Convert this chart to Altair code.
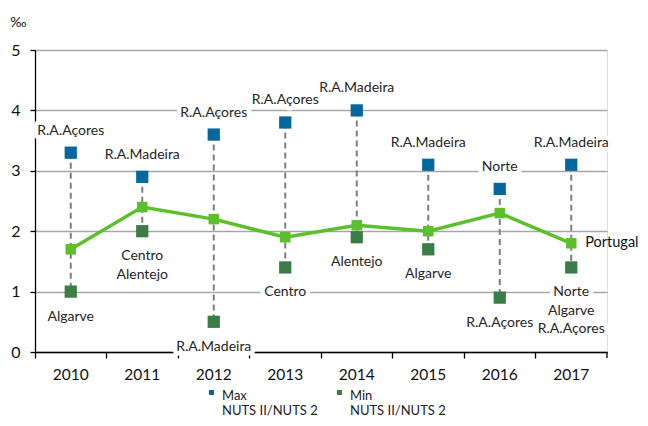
import altair as alt
import pandas as pd

years = ["2010", "2011", "2012", "2013", "2014", "2015", "2016", "2017"]
max_vals = [3.3, 2.9, 3.6, 3.8, 4.0, 3.1, 2.7, 3.1]
min_vals = [1.0, 2.0, 0.5, 1.4, 1.9, 1.7, 0.9, 1.4]
portugal_vals = [1.7, 2.4, 2.2, 1.9, 2.1, 2.0, 2.3, 1.8]
max_regions = ["R.A.Açores", "R.A.Madeira", "R.A.Açores", "R.A.Açores",
               "R.A.Madeira", "R.A.Madeira", "Norte", "R.A.Madeira"]
min_regions = ["Algarve", "Centro\nAlentejo", "R.A.Madeira", "Centro",
               "Alentejo", "Algarve", "R.A.Açores", "Norte\nAlgarve\nR.A.Açores"]
series_names = ["Max|NUTS II/NUTS 2", "Min|NUTS II/NUTS 2"]
series_colors = ["#04679d", "#3b7d46"]
portugal_label = "Portugal"

FONT = "Lato"
W, H = 572, 302

df = pd.DataFrame({
    "year": years, "max": max_vals, "min": min_vals, "portugal": portugal_vals,
    "max_region": max_regions, "min_region": min_regions,
})
pts = pd.concat([
    pd.DataFrame({"year": years, "value": max_vals, "series": series_names[0]}),
    pd.DataFrame({"year": years, "value": min_vals, "series": series_names[1]}),
])

xenc = alt.X("year:N", sort=years, title=None,
             scale=alt.Scale(paddingInner=0, paddingOuter=0),
             axis=alt.Axis(bandPosition=0, labelAngle=0, labelFontSize=15.5,
                           labelFont=FONT, labelColor="#111", labelPadding=9,
                           tickSize=6, tickColor="#000", domainColor="#000",
                           domainWidth=1.3, tickWidth=1.3, grid=False))
yscale = alt.Scale(domain=[0, 5], nice=False)
yaxis = alt.Axis(values=[0, 1, 2, 3, 4, 5], format="d", labelFontSize=16,
                 labelFont=FONT, labelColor="#111", labelPadding=10,
                 tickSize=5, tickColor="#000", domainColor="#000",
                 domainWidth=1.3, tickWidth=1.3, grid=True,
                 gridColor="#a6a6a6", gridWidth=1.3,
                 title="‰", titleAngle=0, titleFont=FONT, titleFontSize=14,
                 titleFontWeight="normal", titleColor="#111",
                 titleX=-17, titleY=-28, titleAlign="center",
                 titleBaseline="middle")

base = alt.Chart(df)

rules = base.mark_rule(color="#7f7f7f", strokeDash=[6, 4], strokeWidth=2).encode(
    x=xenc, y=alt.Y("max:Q", scale=yscale, axis=yaxis), y2="min:Q")

points = alt.Chart(pts).mark_point(shape="square", filled=True, size=150, opacity=1).encode(
    x=alt.X("year:N", sort=years),
    y=alt.Y("value:Q", scale=yscale),
    color=alt.Color("series:N", scale=alt.Scale(domain=series_names, range=series_colors),
                    legend=alt.Legend(title=None, orient="none", direction="horizontal",
                                      legendX=170, legendY=333, padding=0,
                                      symbolType="M-0.5,0.05h1v1h-1z", symbolSize=100,
                                      symbolStrokeWidth=0, labelFont=FONT,
                                      labelFontSize=13, labelColor="#222",
                                      labelExpr="split(datum.label, '|')",
                                      labelBaseline="top", labelLimit=200,
                                      labelOffset=4, columnPadding=15)),
)

line = base.mark_line(color="#5cbf2c", strokeWidth=3.5,
                      point=alt.OverlayMarkDef(shape="square", filled=True, size=110,
                                               color="#5cbf2c", opacity=1)).encode(
    x=alt.X("year:N", sort=years), y=alt.Y("portugal:Q", scale=yscale))

def labels(field, ycol, baseline, dy):
    halo = base.mark_text(font=FONT, fontSize=14, baseline=baseline, dy=dy,
                          lineBreak="\n", lineHeight=18.5, stroke="white",
                          strokeWidth=9, strokeJoin="round", color="white").encode(
        x=alt.X("year:N", sort=years), y=alt.Y(f"{ycol}:Q", scale=yscale),
        text=f"{field}:N")
    txt = base.mark_text(font=FONT, fontSize=14, baseline=baseline, dy=dy,
                         lineBreak="\n", lineHeight=18.5, color="#262626").encode(
        x=alt.X("year:N", sort=years), y=alt.Y(f"{ycol}:Q", scale=yscale),
        text=f"{field}:N")
    return halo + txt

max_labels = labels("max_region", "max", "middle", -22)
min_labels = labels("min_region", "min", "top", 18)

port_df = pd.DataFrame({"year": [years[-1]], "value": [portugal_vals[-1]],
                        "label": [portugal_label]})
port_text = alt.Chart(port_df).mark_text(font=FONT, fontSize=14.5, align="left",
                                         baseline="middle", dx=14, color="#111").encode(
    x=alt.X("year:N", sort=years), y=alt.Y("value:Q", scale=yscale), text="label:N")

end_tick = alt.Chart(port_df).mark_rule(color="#000", strokeWidth=1.3).encode(
    x=alt.value(W), y=alt.value(H), y2=alt.value(H + 6))

chart = alt.layer(rules, points, line, max_labels, min_labels, port_text, end_tick).properties(
    width=W, height=H,
    autosize=alt.AutoSizeParams(type="none"),
    padding={"left": 27, "top": 42, "right": 33, "bottom": 66},
).configure_view(stroke=None).configure(background="white")

chart.save("out.html", embed_options={"renderer": "svg", "actions": False})
